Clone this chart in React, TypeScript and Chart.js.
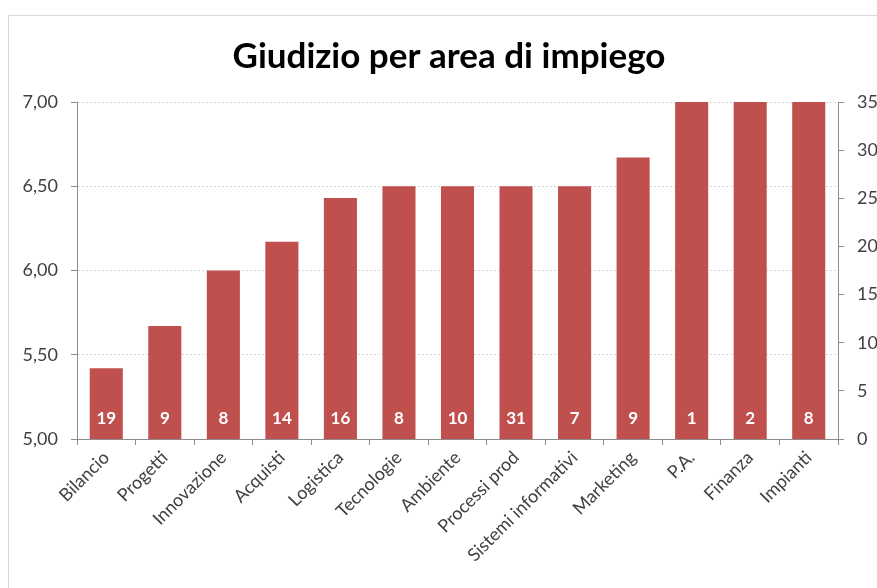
import React, { useEffect, useRef } from "react";
import { Chart, registerables } from "chart.js";

Chart.register(...registerables);

const categories = [
  "Bilancio",
  "Progetti",
  "Innovazione",
  "Acquisti",
  "Logistica",
  "Tecnologie",
  "Ambiente",
  "Processi prod",
  "Sistemi informativi",
  "Marketing",
  "P.A.",
  "Finanza",
  "Impianti",
];
const scores = [5.42, 5.67, 6.0, 6.17, 6.43, 6.5, 6.5, 6.5, 6.5, 6.67, 7.0, 7.0, 7.0];
const counts = [19, 9, 8, 14, 16, 8, 10, 31, 7, 9, 1, 2, 8];
const titleText = "Giudizio per area di impiego";

const FONT = "Lato, sans-serif";
const CANVAS_W = 880;
const CANVAS_H = 572;

const countLabels = {
  id: "countLabels",
  afterDraw(chart: any) {
    const ctx = chart.ctx;
    const xs = chart.scales.x;
    const ys = chart.scales.y;
    ctx.save();
    ctx.fillStyle = "#ffffff";
    ctx.font = "bold 17px Lato, sans-serif";
    ctx.textAlign = "center";
    ctx.textBaseline = "middle";
    counts.forEach((c, i) => {
      const x = xs.getPixelForValue(i);
      const y = ys.getPixelForValue(5) - 20;
      ctx.fillText(String(c), x, y);
    });
    ctx.restore();
  },
};

export default function App() {
  const ref = useRef<HTMLCanvasElement | null>(null);
  useEffect(() => {
    if (!ref.current) return;
    const chart = new Chart(ref.current, {
      type: "bar",
      data: {
        labels: categories,
        datasets: [
          {
            label: "Giudizio",
            data: scores,
            backgroundColor: "#C0504D",
            borderWidth: 0,
            categoryPercentage: 1,
            barPercentage: 0.565,
            yAxisID: "y",
          },
        ],
      },
      plugins: [countLabels],
      options: {
        responsive: false,
        animation: false,
        layout: { padding: 0 },
        plugins: {
          legend: { display: false },
          tooltip: { enabled: false },
          title: {
            display: true,
            text: titleText,
            color: "#000000",
            font: { family: FONT, size: 35, weight: "bold", lineHeight: 1.2 },
            padding: { top: 20, bottom: 24 },
          },
        },
        scales: {
          x: {
            grid: {
              display: true,
              drawOnChartArea: false,
              drawTicks: true,
              tickLength: 6,
              tickColor: "#8c8c8c",
              offset: true,
            },
            border: { display: true, color: "#8c8c8c", width: 1 },
            ticks: {
              color: "#404040",
              font: { family: FONT, size: 18 },
              minRotation: 45,
              maxRotation: 45,
              autoSkip: false,
              padding: 2,
            },
            afterFit(scale: any) {
              scale.height = CANVAS_H - 423;
            },
          },
          y: {
            position: "left",
            min: 5,
            max: 7,
            grid: {
              color: "#d9d9d9",
              drawTicks: true,
              tickLength: 6,
              tickColor: "#8c8c8c",
            },
            border: { display: true, color: "#8c8c8c", width: 1, dash: [2, 2] },
            ticks: {
              stepSize: 0.5,
              color: "#404040",
              font: { family: FONT, size: 18 },
              padding: 13,
              callback: (v: any) => Number(v).toFixed(2).replace(".", ","),
            },
            afterFit(scale: any) {
              scale.width = 68;
            },
          },
          y2: {
            position: "right",
            min: 0,
            max: 35,
            grid: {
              drawOnChartArea: false,
              drawTicks: true,
              tickLength: 6,
              tickColor: "#8c8c8c",
            },
            border: { display: true, color: "#8c8c8c", width: 1 },
            ticks: {
              stepSize: 5,
              color: "#404040",
              font: { family: FONT, size: 18 },
              padding: 13,
            },
            afterFit(scale: any) {
              scale.width = CANVAS_W - 829;
            },
          },
        },
      },
    } as any);
    return () => chart.destroy();
  }, []);

  return (
    <div
      style={{
        position: "fixed",
        left: 8,
        top: 15,
        width: 869,
        height: 573,
        overflow: "hidden",
      }}
    >
      <div
        style={{
          width: CANVAS_W,
          height: CANVAS_H,
          border: "1px solid #d9d9d9",
          background: "#ffffff",
        }}
      >
        <canvas ref={ref} width={CANVAS_W} height={CANVAS_H} style={{ display: "block" }} />
      </div>
    </div>
  );
}
